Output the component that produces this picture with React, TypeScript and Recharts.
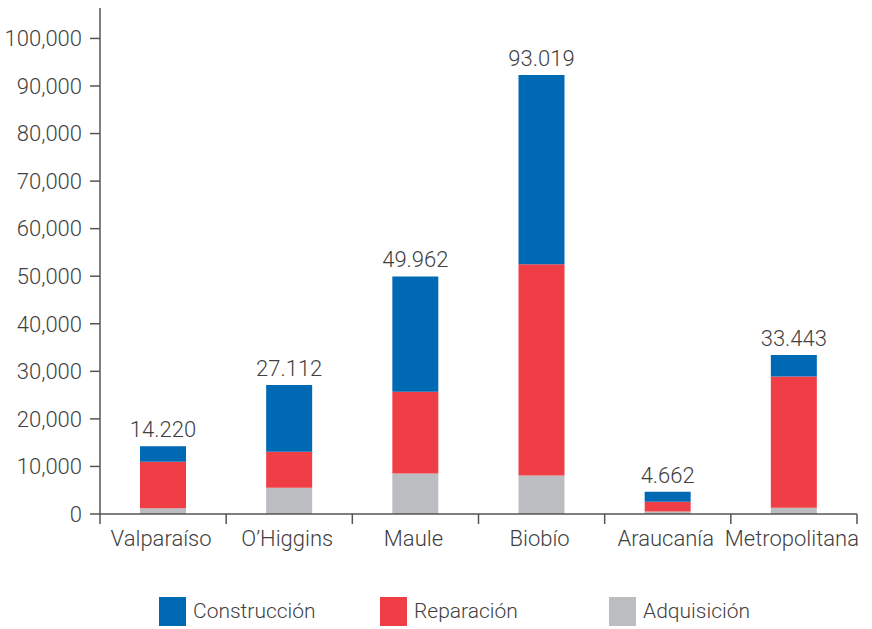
import React from "react";
import { BarChart, Bar, XAxis, YAxis, LabelList, Legend } from "recharts";

const regions = ["Valparaíso", "O’Higgins", "Maule", "Biobío", "Araucanía", "Metropolitana"];
const adquisicion = [1200, 5500, 8500, 8100, 500, 1300];
const reparacion = [9800, 7600, 17200, 44400, 2100, 27600];
const construccion = [3220, 14000, 24260, 39800, 2060, 4540];
const totals = [14220, 27112, 49962, 93019, 4662, 33443];
const yTicks = [0, 10000, 20000, 30000, 40000, 50000, 60000, 70000, 80000, 90000, 100000];

const BLUE = "#0069b4";
const RED = "#ef3e45";
const GRAY = "#bcbdc1";
const TEXT = "#3f3f3f";
const AXIS = "#555555";
const FONT = "Roboto, sans-serif";
const WEIGHT = 300;

const PLOT_LEFT = 100;
const PLOT_RIGHT = 857;
const BAND = (PLOT_RIGHT - PLOT_LEFT) / regions.length;

const chartData = regions.map((region, i) => ({
  region,
  adquisicion: adquisicion[i],
  reparacion: reparacion[i],
  construccion: construccion[i],
  total: totals[i],
}));

const legendItems = [
  { name: "Construcción", color: BLUE },
  { name: "Reparación", color: RED },
  { name: "Adquisición", color: GRAY },
];

function XTick(props: any) {
  const { x, y, payload, index } = props;
  const last = index === regions.length - 1;
  return (
    <g>
      <line x1={x - BAND / 2} x2={x - BAND / 2} y1={y} y2={y + 10} stroke={AXIS} strokeWidth={1.5} />
      {last && <line x1={x + BAND / 2} x2={x + BAND / 2} y1={y} y2={y + 10} stroke={AXIS} strokeWidth={1.5} />}
      <text x={x - 2} y={y + 32} textAnchor="middle" fill={TEXT} fontSize={22} fontWeight={WEIGHT} fontFamily={FONT}>
        {payload.value}
      </text>
    </g>
  );
}

function LegendContent() {
  const widths = [221, 229, 200];
  return (
    <div style={{ display: "flex", paddingLeft: 159, fontFamily: FONT, height: 40 }}>
      {legendItems.map((it, i) => (
        <div key={it.name} style={{ width: widths[i], display: "flex", alignItems: "center", height: 32 }}>
          <span style={{ width: 27, height: 29, background: it.color, display: "inline-block", marginRight: 7 }} />
          <span style={{ fontSize: 21, fontWeight: WEIGHT, color: TEXT }}>{it.name}</span>
        </div>
      ))}
    </div>
  );
}

export default function App() {
  return (
    <div style={{ position: "absolute", left: 0, top: 0, background: "#fff" }}>
      <BarChart
        width={872}
        height={629}
        data={chartData}
        margin={{ top: 8, right: 15, left: 0, bottom: 35 }}
        barSize={46}
      >
        <XAxis
          dataKey="region"
          interval={0}
          height={40}
          tickLine={false}
          tickSize={0}
          tickMargin={0}
          axisLine={{ stroke: AXIS, strokeWidth: 1.5 }}
          tick={<XTick />}
        />
        <YAxis
          width={100}
          domain={[0, 106400]}
          ticks={yTicks}
          allowDataOverflow
          axisLine={{ stroke: AXIS, strokeWidth: 1.5 }}
          tickLine={{ stroke: AXIS, strokeWidth: 1.5 }}
          tickSize={10}
          tickMargin={8}
          tick={{ fill: TEXT, fontSize: 22, fontWeight: WEIGHT, fontFamily: FONT }}
          tickFormatter={(v: number) => v.toLocaleString("en-US")}
        />
        <Legend
          verticalAlign="bottom"
          content={<LegendContent />}
          wrapperStyle={{ top: 595, left: 0, width: 872, height: 40 }}
        />
        <Bar dataKey="adquisicion" name="Adquisición" stackId="a" fill={GRAY} isAnimationActive={false} />
        <Bar dataKey="reparacion" name="Reparación" stackId="a" fill={RED} isAnimationActive={false} />
        <Bar dataKey="construccion" name="Construcción" stackId="a" fill={BLUE} isAnimationActive={false}>
          <LabelList
            dataKey="total"
            position="top"
            offset={9}
            fill={TEXT}
            fontSize={22}
            fontWeight={WEIGHT}
            fontFamily={FONT}
            formatter={(v: any) => Number(v).toLocaleString("en-US").replace(/,/g, ".")}
          />
        </Bar>
      </BarChart>
    </div>
  );
}
